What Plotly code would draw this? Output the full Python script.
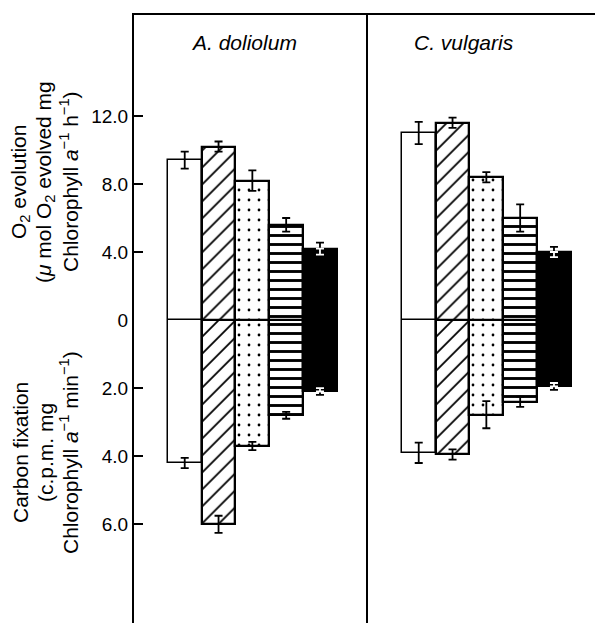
import plotly.graph_objects as go
from plotly.subplots import make_subplots

# ---------------- data ----------------
species = ["A. doliolum", "C. vulgaris"]
treatments = ["T1", "T2", "T3", "T4", "T5"]

o2_doliolum = [9.4, 10.2, 8.2, 5.6, 4.2]
o2_doliolum_err = [0.5, 0.3, 0.6, 0.4, 0.35]
o2_vulgaris = [11.0, 11.6, 8.4, 6.0, 4.0]
o2_vulgaris_err = [0.65, 0.3, 0.3, 0.8, 0.3]

c_doliolum = [4.2, 6.0, 3.7, 2.8, 2.1]
c_doliolum_err = [0.15, 0.25, 0.12, 0.1, 0.1]
c_vulgaris = [3.9, 3.95, 2.78, 2.4, 1.95]
c_vulgaris_err = [0.3, 0.15, 0.4, 0.15, 0.1]

o2_tickvals = [0, 4, 8, 12]
o2_ticktext = ["0", "4.0", "8.0", "12.0"]
c_tickvals = [2, 4, 6]
c_ticktext = ["2.0", "4.0", "6.0"]

# ---------------- styling ----------------
FONT = "Liberation Sans, Arial, Helvetica, sans-serif"
fill_colors = ["white", "white", "white", "white", "black"]
pattern_shapes = ["", "/", ".", "-", ""]
pattern_sizes = [8, 12, 10, 9, 8]
pattern_solidity = [0.2, 0.15, 0.06, 0.32, 0.2]
line_widths = [1.5, 2.3, 2.3, 2.3, 2.3]

fig = make_subplots(rows=2, cols=2, row_heights=[305, 303],
                    horizontal_spacing=0, vertical_spacing=0)


def add_bars(values, errors, row, col):
    for i, t in enumerate(treatments):
        marker = dict(color=fill_colors[i],
                      line=dict(color="black", width=line_widths[i]))
        if pattern_shapes[i]:
            marker["pattern"] = dict(shape=pattern_shapes[i], fgcolor="black",
                                     bgcolor="white", size=pattern_sizes[i],
                                     solidity=pattern_solidity[i],
                                     fillmode="replace")
        fig.add_trace(go.Bar(
            x=[t], y=[values[i]], width=1.0, marker=marker,
            error_y=dict(type="data", array=[errors[i]], color="black",
                         thickness=1.8, width=4),
            showlegend=False, hoverinfo="skip"), row=row, col=col)
    # inner half of the error bar on the black bar shows white
    k = fill_colors.index("black")
    fig.add_trace(go.Scatter(
        x=[treatments[k]], y=[values[k]], mode="markers",
        marker=dict(size=1, color="rgba(0,0,0,0)"),
        error_y=dict(type="data", symmetric=False, array=[0],
                     arrayminus=[errors[k]], color="white",
                     thickness=1.8, width=4),
        showlegend=False, hoverinfo="skip"), row=row, col=col)


add_bars(o2_doliolum, o2_doliolum_err, 1, 1)
add_bars(o2_vulgaris, o2_vulgaris_err, 1, 2)
add_bars(c_doliolum, c_doliolum_err, 2, 1)
add_bars(c_vulgaris, c_vulgaris_err, 2, 2)

xr = [-1.5, 5.42]
for r in (1, 2):
    for c in (1, 2):
        fig.update_xaxes(range=xr, showticklabels=False, ticks="",
                         showgrid=False, zeroline=False, automargin=False,
                         showline=(r == 1), side="top" if r == 1 else "bottom",
                         linecolor="black", linewidth=1.5,
                         row=r, col=c)

tick_font = dict(family=FONT, size=19, color="black")
common_left = dict(ticks="inside", ticklen=9, tickwidth=1.5, tickcolor="black",
                   tickfont=tick_font, showgrid=False, zeroline=False,
                   showline=True, linecolor="black", linewidth=2,
                   mirror=False, automargin=False)
fig.update_yaxes(range=[0, 17.94], tickvals=o2_tickvals,
                 ticktext=o2_ticktext, row=1, col=1, **common_left)
fig.update_yaxes(range=[8.9, 0], tickvals=c_tickvals,
                 ticktext=c_ticktext, row=2, col=1, **common_left)
common_right = dict(showticklabels=False, ticks="", showgrid=False,
                    zeroline=False, showline=True, linecolor="black",
                    linewidth=1.6, mirror=True, automargin=False)
fig.update_yaxes(range=[0, 17.94], row=1, col=2, **common_right)
fig.update_yaxes(range=[8.9, 0], row=2, col=2, **common_right)

# page body adds an 8px offset; compensate so the plot lands at the target pixels
OFF = 8
W, H = 603 - OFF, 623 - OFF
ML, MR, MT, MB = 134 - OFF, 1, 15 - OFF, 0
pw, ph = W - ML - MR, H - MT - MB


def px_x(x):
    return (x - OFF - ML) / pw


def px_y(y):
    return (H - MB - (y - OFF)) / ph


annos = [
    dict(text="<i>" + species[0] + "</i>", x=px_x(244), y=px_y(42)),
    dict(text="<i>" + species[1] + "</i>", x=px_x(464), y=px_y(42)),
]
for a in annos:
    a.update(xref="paper", yref="paper", showarrow=False,
             xanchor="center", yanchor="middle",
             font=dict(family=FONT, size=21, color="black"))

ytitle_font = dict(family=FONT, size=21, color="black")
o2_title = ["O<sub>2</sub> evolution",
            "(<i>μ</i> mol O<sub>2</sub> evolved mg",
            "Chlorophyll <i>a</i><sup>−1</sup> h<sup>−1</sup>)"]
c_title = ["Carbon fixation",
           "(c.p.m. mg",
           "Chlorophyll <i>a</i><sup>−1</sup> min<sup>−1</sup>)"]
line_x = [20, 45, 69]
for lines, yc in ((o2_title, 182), (c_title, 453)):
    for txt, lx in zip(lines, line_x):
        annos.append(dict(text=txt, x=px_x(lx), y=px_y(yc),
                          xref="paper", yref="paper", showarrow=False,
                          textangle=-90, xanchor="center", yanchor="middle",
                          font=ytitle_font))

fig.update_layout(width=W, height=H,
                  margin=dict(l=ML, r=MR, t=MT, b=MB, pad=0, autoexpand=False),
                  paper_bgcolor="white", plot_bgcolor="white",
                  bargap=0, barmode="overlay", annotations=annos,
                  font=dict(family=FONT, color="black"))

fig.write_html("out.html")
